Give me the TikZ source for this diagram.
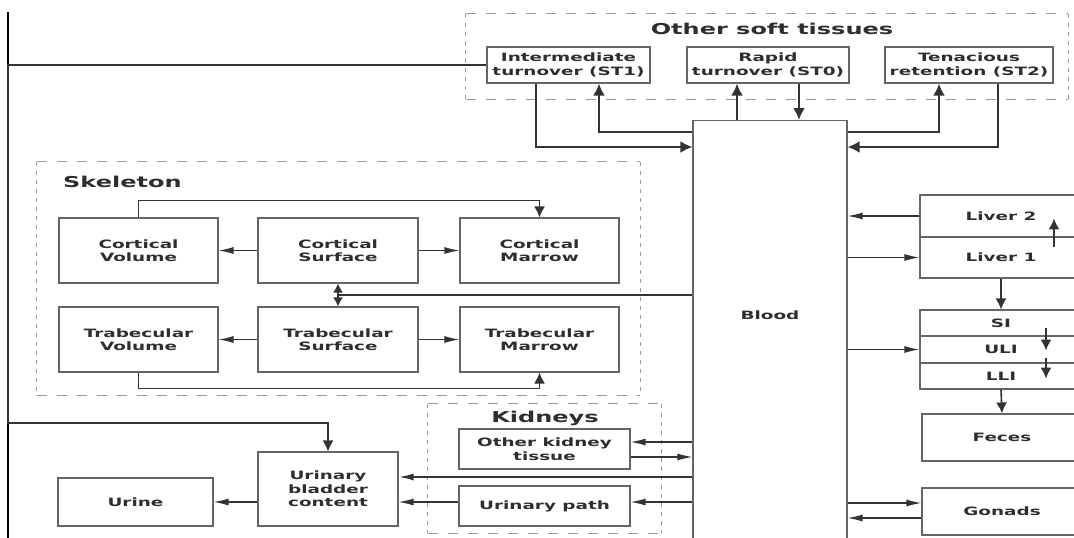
\documentclass[tikz,border=0pt]{standalone}
\usepackage{fontspec}
\setmainfont{DejaVu Sans}[FakeStretch=1.6]
\usetikzlibrary{arrows.meta,calc}
\definecolor{lnc}{HTML}{333333}
\definecolor{bxc}{HTML}{666666}
\definecolor{grc}{HTML}{9A9A9A}
\definecolor{txc}{HTML}{2E2E2E}
\tikzset{
  box/.style={draw=bxc,line width=1.1pt,fill=white,inner sep=1pt,align=center,text=txc,
    font=\fontsize{11.5}{13.5}\selectfont\bfseries},
  lbl/.style={inner sep=0pt,text=txc,font=\fontsize{11.5}{13.5}\selectfont\bfseries},
  grp/.style={inner sep=0pt,draw=none},
  hdash/.style={draw=grc,line width=1.1pt,dash pattern=on 10pt off 10pt},
  vdash/.style={draw=grc,line width=1.1pt,dash pattern=on 4pt off 5pt},
  ttl/.style={inner sep=0pt,text=txc,font=\fontsize{15}{18}\selectfont\bfseries},
  arr/.style={draw=lnc,line width=1.3pt,-{Latex[length=15pt,width=7pt]}},
  barr/.style={draw=lnc,line width=1.6pt,-{Latex[length=11pt,width=11pt]}},
  sarr/.style={draw=lnc,line width=1.6pt,-{Latex[length=9pt,width=10pt]}},
  tarr/.style={draw=lnc,line width=2.4pt,-{Latex[length=12pt,width=12pt]}},
  plain/.style={draw=lnc,line width=1.3pt}
}
\begin{document}
\begin{tikzpicture}[x=1pt,y=-1pt]
\useasboundingbox (0,0) rectangle (1074,538);
\fill[white] (0,0) rectangle (1074,538);

% groups
\node[grp,minimum width=602,minimum height=85] (ost) at (767,56.5) {};
\node[grp,minimum width=603,minimum height=233] (sk) at (338.5,278.5) {};
\node[grp,minimum width=233,minimum height=129] (kid) at (544.5,468.5) {};
\foreach \g in {ost,sk,kid}{
  \draw[hdash] (\g.north west) -- (\g.north east) (\g.south west) -- (\g.south east);
  \draw[vdash] (\g.north west) -- (\g.south west) (\g.north east) -- (\g.south east);
}
\node[ttl] (ostt) at (772,29) {Other soft tissues};
\node[ttl,anchor=west] (skt) at (63,182) {Skeleton};
\node[ttl] (kidt) at (545,418) {Kidneys};

% soft tissues
\node[box,minimum width=163,minimum height=36] (st1) at (568.5,65) {Intermediate\\turnover (ST1)};
\node[box,minimum width=162,minimum height=36] (st0) at (768,65) {Rapid\\turnover (ST0)};
\node[box,minimum width=168,minimum height=36] (st2) at (969,65) {Tenacious\\retention (ST2)};

% blood
\node[box,minimum width=154,minimum height=430,anchor=north] (blood) at (770,120) {};
\node[lbl] (bloodl) at (770,315) {Blood};

% skeleton
\node[box,minimum width=159,minimum height=65] (cv) at (138.5,250.5) {Cortical\\Volume};
\node[box,minimum width=160,minimum height=65] (cs) at (338,250.5) {Cortical\\Surface};
\node[box,minimum width=159,minimum height=65] (cm) at (539.5,250.5) {Cortical\\Marrow};
\node[box,minimum width=159,minimum height=65] (tv) at (138.5,339.5) {Trabecular\\Volume};
\node[box,minimum width=160,minimum height=65] (ts) at (338,339.5) {Trabecular\\Surface};
\node[box,minimum width=159,minimum height=65] (tm) at (539.5,339.5) {Trabecular\\Marrow};

% right side
\node[box,minimum width=162,minimum height=42] (liver2) at (1001,216) {Liver 2};
\node[box,minimum width=162,minimum height=41] (liver1) at (1001,257.5) {Liver 1};
\node[box,minimum width=162,minimum height=26] (si) at (1001,323) {SI};
\node[box,minimum width=162,minimum height=27] (uli) at (1001,349.5) {ULI};
\node[box,minimum width=162,minimum height=26] (lli) at (1001,376) {LLI};
\node[box,minimum width=160,minimum height=47] (feces) at (1002,437.5) {Feces};
\node[box,minimum width=160,minimum height=47] (gonads) at (1002,511.5) {Gonads};

% kidneys and bladder
\node[box,minimum width=171,minimum height=40] (okt) at (544.5,449) {Other kidney\\tissue};
\node[box,minimum width=171,minimum height=40] (up) at (544.5,506) {Urinary path};
\node[box,minimum width=140,minimum height=74] (bladder) at (328,489) {Urinary\\bladder\\content};
\node[box,minimum width=155,minimum height=48] (urine) at (135.5,502) {Urine};

% soft tissue connectors
\draw[tarr] ([xshift=-32.5pt]st1.south) |- ([yshift=-27pt]blood.north west);
\draw[tarr] ([yshift=-12pt]blood.north west) -| ([xshift=30.5pt]st1.south);
\coordinate (r1) at ([xshift=-33pt]blood.north);
\draw[tarr] (r1) -- (r1 |- st0.south);
\coordinate (r2) at ([xshift=31pt]st0.south);
\draw[tarr] (r2) -- (r2 |- blood.north);
\draw[tarr] ([yshift=-12pt]blood.north east) -| ([xshift=-30pt]st2.south);
\draw[tarr] ([xshift=29pt]st2.south) |- ([yshift=-27pt]blood.north east);

% liver and GI
\draw[arr] (liver2.west) -- (liver2.west -| blood.east);
\draw[arr] (blood.east |- liver1.west) -- (liver1.west);
\coordinate (lv) at ([xshift=53pt]liver1.north);
\draw[barr] ([yshift=-11pt]lv) -- ([yshift=18pt]lv);
\draw[barr] (liver1.south) -- (si.north);
\draw[arr] (blood.east |- uli.west) -- (uli.west);
\coordinate (g1) at ([xshift=45pt]si.south);
\draw[barr] ([yshift=9pt]g1) -- ([yshift=-14pt]g1);
\coordinate (g2) at ([xshift=45pt]uli.south);
\draw[barr] ([yshift=6pt]g2) -- ([yshift=-15pt]g2);
\draw[barr] (lli.south) -- (feces.north);
\coordinate (go1) at ([yshift=8.5pt]gonads.west);
\draw[arr] (blood.east |- go1) -- (go1);
\coordinate (go2) at ([yshift=-6.5pt]gonads.west);
\draw[arr] (go2) -- (blood.east |- go2);

% skeleton connectors
\coordinate (j) at ($(cs.south)!0.5!(ts.north)$);
\draw[plain] (blood.west |- j) -- (j);
\draw[sarr] (j) -- (cs.south);
\draw[sarr] (j) -- (ts.north);
\draw[arr] (cs.west) -- (cv.east);
\draw[arr] (cs.east) -- (cm.west);
\draw[arr] (ts.west) -- (tv.east);
\draw[arr] (ts.east) -- (tm.west);
\draw[barr] (cv.north) -- ++(0,-17) -| (cm.north);
\draw[barr] (tv.south) -- ++(0,16) -| (tm.south);

% left line and bladder
\coordinate (ltop) at (8,12);
\coordinate (lbot) at (8,540);
\draw[draw=black,line width=2.2pt] (ltop) -- (lbot);
\coordinate (lft) at (8,423);
\draw[barr] (st1.west) -| (lft) -| (bladder.north);

% kidneys connectors
\coordinate (k1) at ([yshift=7pt]okt.east);
\draw[arr] (blood.west |- k1) -- (k1);
\coordinate (k2) at ([yshift=-8pt]okt.east);
\draw[arr] (k2) -- (blood.west |- k2);
\coordinate (b1) at ([yshift=12pt]bladder.east);
\draw[arr,line width=1.8pt] (blood.west |- b1) -- (b1);
\coordinate (u1) at ([yshift=4pt]up.east);
\draw[arr] (blood.west |- u1) -- (u1);
\coordinate (u2) at ([yshift=4pt]up.west);
\draw[arr] (u2) -- (bladder.east |- u2);
\draw[arr] (bladder.west |- urine.east) -- (urine.east);
\end{tikzpicture}
\end{document}
